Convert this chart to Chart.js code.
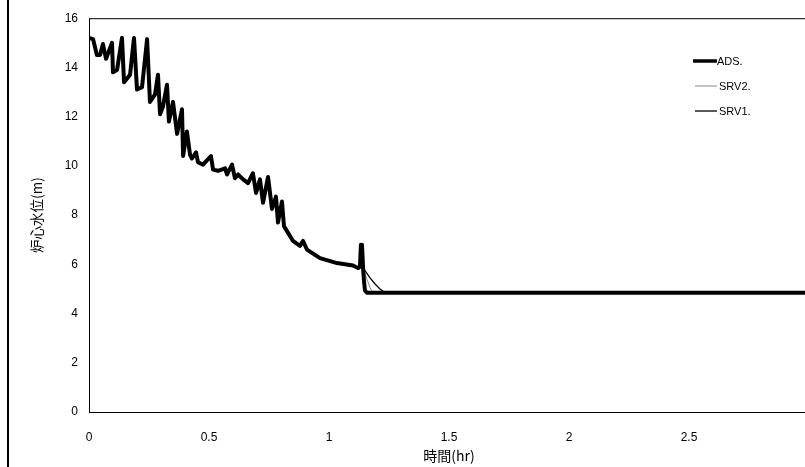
<!DOCTYPE html>
<html>
<head>
<meta charset="utf-8">
<script src="https://cdn.jsdelivr.net/npm/chart.js@4/dist/chart.umd.min.js"></script>
<style>
html,body{margin:0;padding:0;background:#fff;overflow:hidden;width:805px;height:467px;}
#wrap{position:absolute;left:0;top:0;width:820px;height:467px;}
</style>
</head>
<body>
<div id="wrap"><canvas id="c" width="820" height="467"></canvas></div>
<script>
// Shared history (all three cases identical until depressurization)
const commonTime = [0,0.017,0.033,0.046,0.058,0.071,0.096,0.1,0.117,0.1375,0.146,0.171,0.1875,0.2,0.221,0.242,0.254,0.275,0.2875,0.296,0.308,0.325,0.333,0.35,0.367,0.3875,0.392,0.408,0.421,0.429,0.446,0.454,0.475,0.508,0.517,0.5375,0.567,0.575,0.596,0.608,0.621,0.642,0.6625,0.683,0.696,0.7125,0.725,0.746,0.7625,0.779,0.7875,0.804,0.8125,0.825,0.85,0.879,0.892,0.908,0.9625,1.033,1.1,1.121,1.129,1.133,1.1375];
const commonLevel = [15.2,15.15,14.5,14.5,14.95,14.35,15.0,13.8,13.9,15.2,13.4,13.7,15.2,13.1,13.2,15.15,12.6,12.9,13.7,12.1,12.4,13.3,11.8,12.6,11.3,12.3,10.4,11.4,10.45,10.3,10.55,10.15,10.05,10.4,9.85,9.8,9.9,9.65,10.05,9.5,9.65,9.45,9.3,9.7,8.9,9.45,8.5,9.55,8.25,8.75,7.7,8.55,7.55,7.35,6.95,6.75,6.95,6.6,6.25,6.05,5.95,5.85,5.9,6.8,6.8];
// Individual tails
const adsTailTime = [1.142,1.146,1.15,1.158,3.05];
const adsTailLevel = [5.85,5.3,4.93,4.85,4.85];
const srv2TailTime = [1.142,1.158,1.171,1.183,3.05];
const srv2TailLevel = [5.85,5.4,5.05,4.85,4.85];
const srv1TailTime = [1.142,1.15,1.171,1.192,1.2125,1.233,3.05];
const srv1TailLevel = [5.85,5.74,5.45,5.2,5.0,4.85,4.85];

const seriesNames = ['ADS.','SRV2.','SRV1.'];
const xTicks = {min:0,max:3,step:0.5};
const yTicks = {min:0,max:16,step:2};
const xTitle = '時間(hr)';
const yTitle = '炉心水位(m)';

function pts(t1,v1,t2,v2){
  const a=[];
  t1.forEach((t,i)=>a.push({x:t,y:v1[i]}));
  t2.forEach((t,i)=>a.push({x:t,y:v2[i]}));
  return a;
}

const styles=[
  {color:'#000',width:4},
  {color:'#8a8a8a',width:1},
  {color:'#000',width:1.3}
];

const frame = {
  id:'frame',
  afterDraw(chart){
    const {ctx,chartArea:a}=chart;
    ctx.save();
    ctx.strokeStyle='#000';
    ctx.lineWidth=1;
    ctx.strokeRect(a.left+0.5,a.top+0.5,a.right-a.left,a.bottom-a.top);
    ctx.lineWidth=2;
    ctx.beginPath();ctx.moveTo(8,0);ctx.lineTo(8,467);ctx.stroke();
    // legend
    const lx=693, ly=[61,86,111];
    ctx.font='11px "Liberation Sans", Arial, sans-serif';
    ctx.textBaseline='middle';
    ctx.fillStyle='#000';
    seriesNames.forEach((n,i)=>{
      ctx.strokeStyle=styles[i].color;
      ctx.lineWidth=i?styles[i].width:3.5;
      ctx.beginPath();ctx.moveTo(lx+(i?2:0),ly[i]);ctx.lineTo(717,ly[i]);ctx.stroke();
      ctx.fillText(n,i?719:717,ly[i]+1);
    });
    ctx.restore();
  }
};

const tickFont={family:'"Liberation Sans Narrow","Liberation Sans",Arial,sans-serif',size:12};

new Chart(document.getElementById('c'),{
  type:'line',
  data:{datasets:[
    {label:seriesNames[0],data:pts(commonTime,commonLevel,adsTailTime,adsTailLevel),borderColor:styles[0].color,borderWidth:styles[0].width},
    {label:seriesNames[1],data:pts(commonTime,commonLevel,srv2TailTime,srv2TailLevel),borderColor:styles[1].color,borderWidth:styles[1].width},
    {label:seriesNames[2],data:pts(commonTime,commonLevel,srv1TailTime,srv1TailLevel),borderColor:styles[2].color,borderWidth:styles[2].width}
  ]},
  options:{
    responsive:false,animation:false,devicePixelRatio:1,
    parsing:false,
    elements:{point:{radius:0},line:{tension:0,borderJoinStyle:'round',borderCapStyle:'round'}},
    layout:{padding:{left:26,top:16,right:11,bottom:0}},
    plugins:{legend:{display:false},tooltip:{enabled:false}},
    scales:{
      x:{type:'linear',min:xTicks.min,max:xTicks.max,
        afterFit(s){s.height=55;},
        border:{display:false},
        grid:{display:true,drawOnChartArea:false,drawTicks:true,tickLength:17,tickColor:'rgba(0,0,0,0)'},
        ticks:{stepSize:xTicks.step,padding:1,color:'#000',maxRotation:0,autoSkip:false,font:tickFont,
          callback:v=>String(v)},
        title:{display:true,text:xTitle,color:'#000',padding:{top:0,bottom:3},
          font:{family:'"Noto Sans CJK JP",sans-serif',size:14}}
      },
      y:{type:'linear',min:yTicks.min,max:yTicks.max,
        afterFit(s){s.width=63;},
        border:{display:false},
        grid:{display:false,drawTicks:false},
        ticks:{stepSize:yTicks.step,padding:11,color:'#000',font:tickFont,callback:v=>String(v)},
        title:{display:true,text:yTitle,color:'#000',padding:{top:3,bottom:0},
          font:{family:'"Noto Sans CJK JP",sans-serif',size:13.5}}
      }
    }
  },
  plugins:[frame]
});
</script>
</body>
</html>
